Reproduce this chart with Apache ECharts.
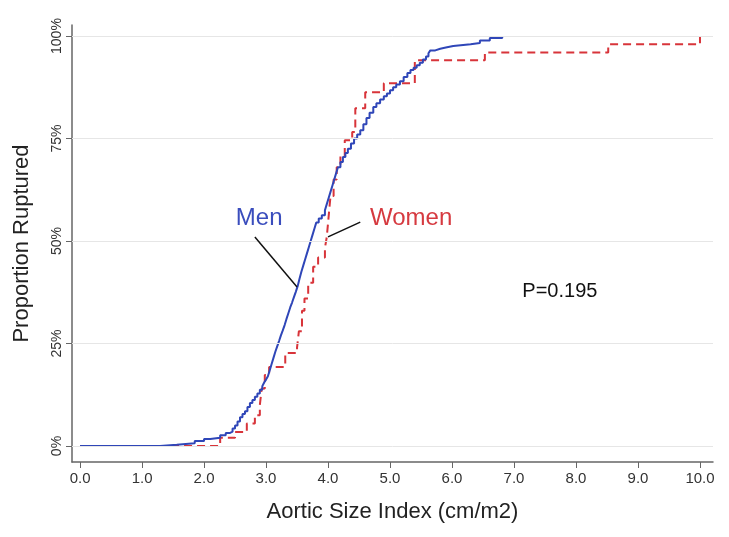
<!DOCTYPE html>
<html>
<head>
<meta charset="utf-8">
<script src="https://cdn.jsdelivr.net/npm/echarts@6/dist/echarts.min.js"></script>
<style>html,body{margin:0;padding:0;background:#fff;}#c{width:729px;height:537px;}</style>
</head>
<body>
<div id="c"></div>
<script>
// Data (x: Aortic Size Index cm/m2, y: % ruptured)
const menX = [0,1.29,1.56,1.85,2.0,2.1,2.26,2.35,2.42,2.46,2.5,2.54,2.58,2.62,2.66,2.7,2.74,2.78,2.82,2.86,2.9,2.94,2.97,3.0,3.03,3.06,3.09,3.12,3.15,3.18,3.21,3.24,3.27,3.3,3.33,3.36,3.39,3.42,3.45,3.48,3.51,3.54,3.57,3.6,3.63,3.66,3.69,3.72,3.75,3.78,3.81,3.85,3.9,3.95,3.98,4.01,4.04,4.07,4.1,4.13,4.16,4.2,4.24,4.28,4.32,4.37,4.42,4.47,4.52,4.57,4.62,4.67,4.73,4.78,4.84,4.9,4.95,5.0,5.05,5.1,5.16,5.22,5.28,5.33,5.38,5.43,5.48,5.53,5.58,5.62,5.65,5.73,5.81,5.9,6.02,6.3,6.45,6.61,6.81];
const menY = [0,0.3,0.7,1.2,1.7,2.0,2.6,3.2,3.5,4.3,5,6,7,7.8,8.5,9.5,10.5,11.2,12,12.8,13.7,14.6,15.5,16.2,17,18.5,20,21.5,23,24.3,25.6,27,28.2,29.5,31,32.4,33.8,35,36.3,37.6,39,40.8,42.5,44,45.5,47,48.5,50,51.5,53,54.5,55.5,56.3,57.5,59,60.5,62,63.5,65,66.5,68,69.3,70.5,71.5,72.5,73.8,75,76,77,78.5,80,81.3,82.7,83.6,84.5,85.3,86,86.8,87.5,88.2,89,90,91,91.7,92.3,92.9,93.5,94.3,95,95.8,96.5,96.9,97.2,97.6,98,98.3,98.9,99.5,100];
const womenX = [0,2.26,2.5,2.69,2.82,2.9,2.93,2.98,3.05,3.31,3.5,3.53,3.58,3.62,3.68,3.76,3.84,3.95,3.98,4.01,4.04,4.09,4.14,4.2,4.27,4.39,4.44,4.6,4.9,5.4,6.53,8.52,10.0];
const womenY = [0,2.0,3.4,5.5,7.5,10,14,17.3,19.3,22.7,24,28,33,36,39.8,43.7,46,48.3,51,56,61,65,68,71,74.6,76.6,82.4,86.3,88.5,94.1,96,98,100];
const xTicks = [0,1,2,3,4,5,6,7,8,9,10];
const yTicks = [0,25,50,75,100];

const men = menX.map((x,i)=>[x,menY[i]]);
const women = womenX.map((x,i)=>[x,womenY[i]]);

const chart = echarts.init(document.getElementById('c'), null, {renderer:'canvas'});
const FONT = 'Liberation Sans, Arial, Helvetica, sans-serif';
const axisCol = '#666';
chart.setOption({
  animation:false,
  backgroundColor:'#fff',
  grid:{left:72,right:16,top:25,bottom:75},
  xAxis:{
    type:'value', min:-0.13, max:10.21,
    name:'Aortic Size Index (cm/m2)', nameLocation:'middle', nameGap:39,
    nameTextStyle:{fontFamily:FONT,fontSize:22,color:'#222'},
    axisLine:{show:true,onZero:false,lineStyle:{color:axisCol,width:1.5}},
    axisTick:{show:true,customValues:xTicks,length:6,lineStyle:{color:axisCol}},
    axisLabel:{customValues:xTicks,formatter:v=>v.toFixed(1),fontFamily:FONT,fontSize:15,color:'#333',margin:9},
    splitLine:{show:false}
  },
  yAxis:{
    type:'value', min:-3.9, max:102.7,
    name:'Proportion Ruptured', nameLocation:'middle', nameGap:39,
    nameTextStyle:{fontFamily:FONT,fontSize:22,color:'#222'},
    axisLine:{show:true,onZero:false,lineStyle:{color:axisCol,width:1.5}},
    axisTick:{show:true,customValues:yTicks,length:6,lineStyle:{color:axisCol}},
    axisLabel:{customValues:yTicks,formatter:v=>v+'%',rotate:90,fontFamily:FONT,fontSize:14,color:'#333',margin:8},
    splitLine:{show:false}
  },
  series:[
    {
      name:'grid', type:'line', data:[], silent:true,
      markLine:{silent:true,symbol:'none',label:{show:false},
        lineStyle:{color:'#e6e6e6',width:1,type:'solid'},
        data:yTicks.map(v=>({yAxis:v}))}
    },
    {
      name:'Women', type:'line', step:'end', data:women, showSymbol:false, symbol:'none',
      lineStyle:{color:'#d8343a',width:2,type:[8,5]}, z:3
    },
    {
      name:'Men', type:'line', step:'end', data:men, showSymbol:false, symbol:'none',
      lineStyle:{color:'#2f46b8',width:2}, z:4,
      markLine:{silent:true,symbol:'none',label:{show:false},
        lineStyle:{color:'#111',width:1.5,type:'solid'},
        data:[
          [{coord:[2.82,51]},{coord:[3.5,38.8]}],
          [{coord:[4.52,54.6]},{coord:[4.0,51]}]
        ]}
    }
  ]
});

function px(x,y){return chart.convertToPixel({gridIndex:0},[x,y]);}
const pMen = px(2.89,55.6), pWomen = px(5.34,55.6), pP = px(7.74,37.8);
chart.setOption({graphic:[
  {type:'text',x:pMen[0],y:pMen[1],style:{text:'Men',fill:'#3a4dbd',font:'24px '+FONT,align:'center',verticalAlign:'middle'}},
  {type:'text',x:pWomen[0],y:pWomen[1],style:{text:'Women',fill:'#d63a40',font:'24px '+FONT,align:'center',verticalAlign:'middle'}},
  {type:'text',x:pP[0],y:pP[1],style:{text:'P=0.195',fill:'#111',font:'20px '+FONT,align:'center',verticalAlign:'middle'}}
]});
</script>
</body>
</html>
